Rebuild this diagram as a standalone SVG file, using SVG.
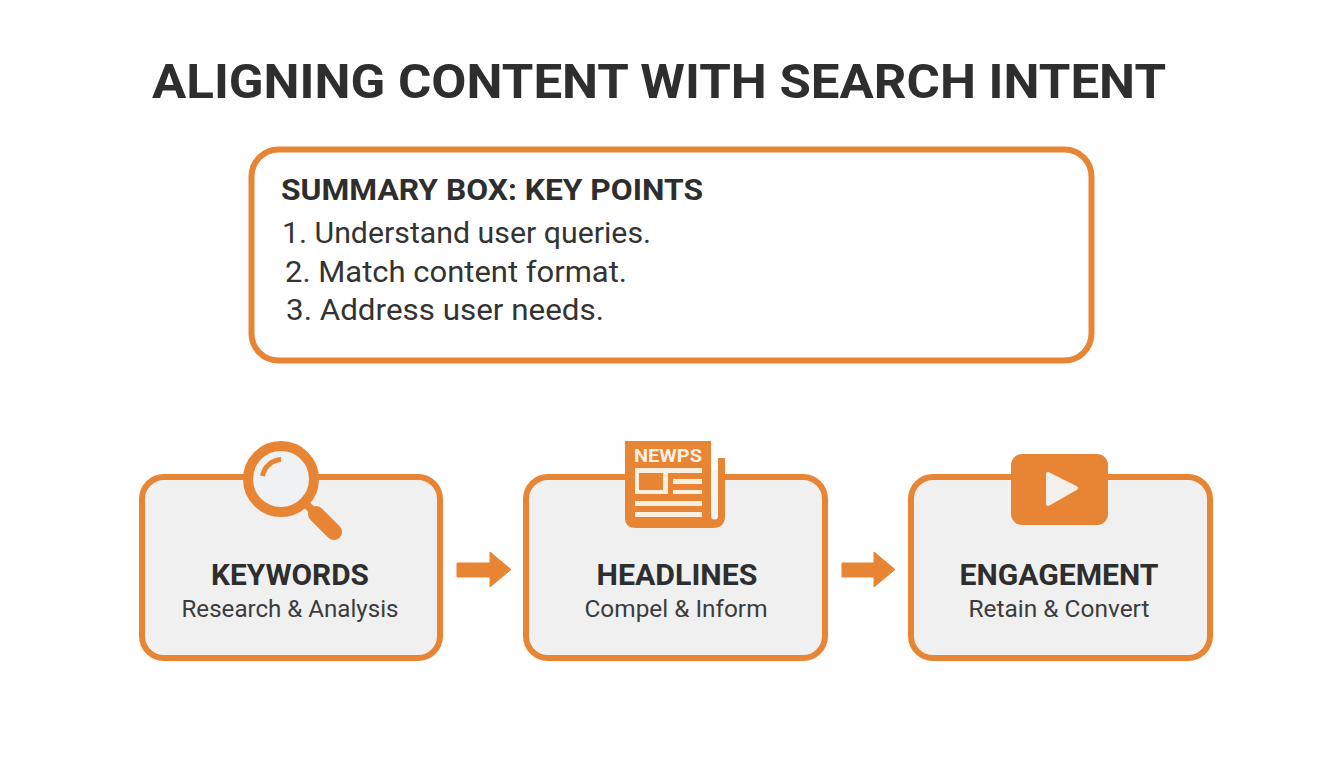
<svg xmlns="http://www.w3.org/2000/svg" width="1344" height="768" viewBox="0 0 1344 768">
<defs><style>
text{font-family:Roboto,"Liberation Sans",sans-serif;fill:#2e2e2e}
.card{fill:#f0f0f0;stroke:#e78535;stroke-width:6}
.or{fill:#e78535}
.h{font-size:29px;font-weight:700;text-anchor:middle}
.s{font-size:23.5px;text-anchor:middle;fill:#3c3c3c}
.l{font-size:29.5px;fill:#333}
.cream{fill:#fbefe2}
</style></defs>
<rect width="1344" height="768" fill="#fefefe"/>
<text id="title" x="659" y="98" font-size="49" font-weight="700" text-anchor="middle" textLength="1014" lengthAdjust="spacingAndGlyphs">ALIGNING CONTENT WITH SEARCH INTENT</text>
<g id="summary">
<rect x="251.500" y="149.500" width="840" height="211" rx="27" fill="#fff" stroke="#e78535" stroke-width="6"/>
<text x="281" y="200" font-size="29" font-weight="700" textLength="422" lengthAdjust="spacingAndGlyphs">SUMMARY BOX: KEY POINTS</text>
<text class="l" x="282" y="243" textLength="369" lengthAdjust="spacingAndGlyphs">1. Understand user queries.</text>
<text class="l" x="285" y="282" textLength="342" lengthAdjust="spacingAndGlyphs">2. Match content format.</text>
<text class="l" x="286" y="320" textLength="318" lengthAdjust="spacingAndGlyphs">3. Address user needs.</text>
</g>
<g id="keywords">
<rect class="card" x="142" y="477" width="298" height="181" rx="22"/>
<circle cx="281" cy="479" r="33" fill="#f0f1f2" stroke="#e78535" stroke-width="10"/>
<path d="M262.500 476 A20 20 0 0 1 281 459.500" fill="none" stroke="#e78535" stroke-width="5"/>
<path d="M304 502 L314 512" stroke="#e78535" stroke-width="8"/>
<path d="M316 514 L334 532" stroke="#e78535" stroke-width="16" stroke-linecap="round"/>
<text class="h" x="290" y="585" textLength="158" lengthAdjust="spacingAndGlyphs">KEYWORDS</text>
<text class="s" x="290" y="617" textLength="217" lengthAdjust="spacingAndGlyphs">Research &amp; Analysis</text>
</g>
<g id="headlines">
<rect class="card" x="526" y="477" width="299" height="181" rx="22"/>
<rect x="711" y="470" width="7" height="50" fill="#f4f4f4"/>
<path class="or" d="M625 441H711V516A3.500 3.500 0 0 0 718 516V458H725V516Q725 528 713 528H636Q625 528 625 518Z"/>
<text x="634" y="462" font-size="17.500" font-weight="700" style="fill:#fbefe2" textLength="68" lengthAdjust="spacingAndGlyphs">NEWPS</text>
<path class="cream" fill-rule="evenodd" d="M635 468H702V473H668V494H635ZM639 473V490H663V473ZM673 479H702V484H673ZM673 490H702V494H673ZM635 501H702V506H635ZM635 512H702V517H635Z"/>
<text class="h" x="677" y="585" textLength="161" lengthAdjust="spacingAndGlyphs">HEADLINES</text>
<text class="s" x="676" y="617" textLength="183" lengthAdjust="spacingAndGlyphs">Compel &amp; Inform</text>
</g>
<g id="engagement">
<rect class="card" x="911" y="477" width="299" height="181" rx="22"/>
<rect class="or" x="1011" y="454" width="97" height="71" rx="11"/>
<path d="M1048 474L1076 488L1048 504Z" fill="#f3efea" stroke="#f3efea" stroke-width="4" stroke-linejoin="round"/>
<text class="h" x="1059" y="585" textLength="199" lengthAdjust="spacingAndGlyphs">ENGAGEMENT</text>
<text class="s" x="1059" y="617" textLength="181" lengthAdjust="spacingAndGlyphs">Retain &amp; Convert</text>
</g>
<g id="connectors">
<path class="or" d="M457 563H490V552L511 569.500L490 587V577H457Z" stroke="#e78535" stroke-width="1" stroke-linejoin="round"/>
<path class="or" d="M842 563H874V552L895 569.500L874 587V577H842Z" stroke="#e78535" stroke-width="1" stroke-linejoin="round"/>
</g>
</svg>
